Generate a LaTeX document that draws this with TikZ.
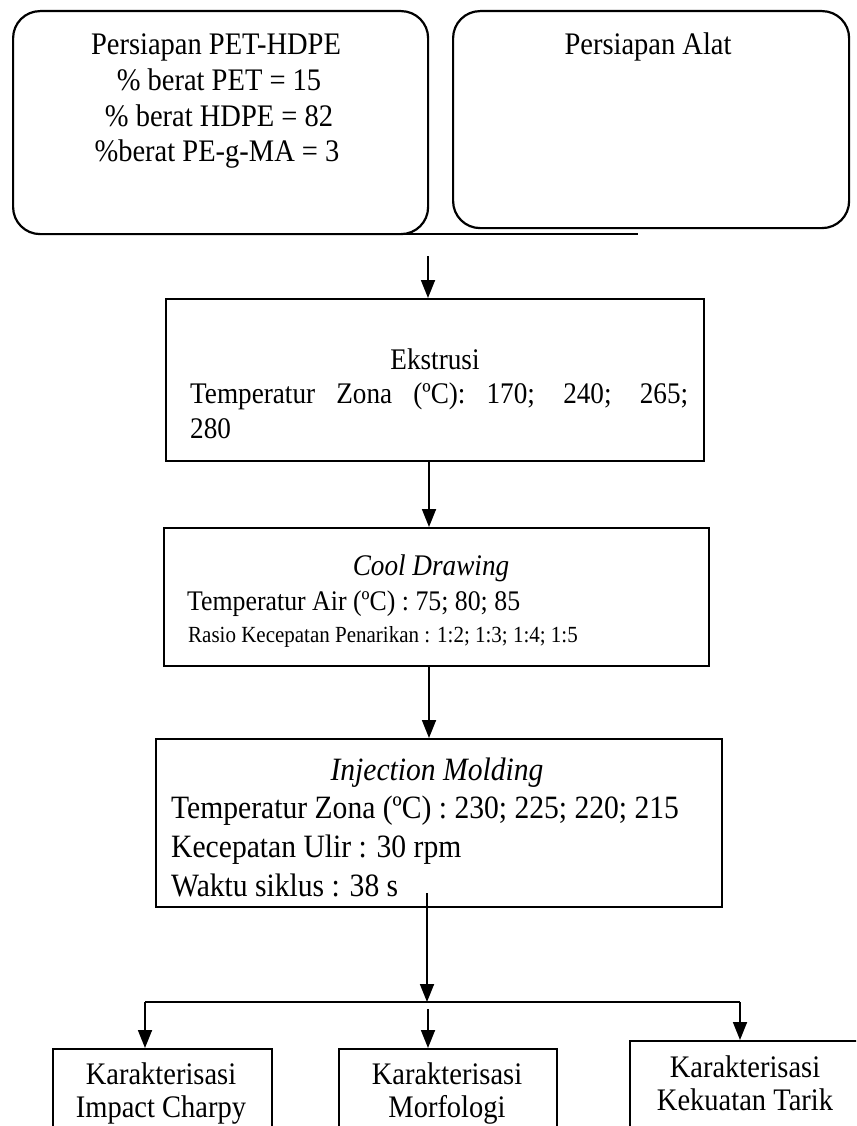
\documentclass[tikz,border=0pt]{standalone}
\usepackage{fontspec}
\setmainfont{Liberation Serif}
\usetikzlibrary{arrows.meta}
\newcommand{\vs}[1]{\scalebox{1}[1.1]{#1}}
\begin{document}
\begin{tikzpicture}[x=1pt,y=-1pt,
  box/.style={draw, line width=2.2pt, inner sep=0pt, anchor=north west},
  rbox/.style={box, rounded corners=27pt},
  arr/.style={line width=1.8pt, -{Triangle[length=18pt,width=14pt]}},
  big/.style={font=\fontsize{28.5}{34}\selectfont},
  mid/.style={font=\fontsize{27.2}{33}\selectfont},
  cl/.style={font=\fontsize{25.8}{31}\selectfont},
  inj/.style={font=\fontsize{29.6}{35}\selectfont},
  small/.style={font=\fontsize{21}{25}\selectfont},
  ctxt/.style={anchor=base, inner sep=0pt},
  ltxt/.style={anchor=base west, inner sep=0pt}
]
\clip (0,0) rectangle (856,1126);
\fill[white] (0,0) rectangle (856,1126);

% top boxes
\node[rbox, minimum width=415pt, minimum height=223pt] (pet) at (12,10) {};
\node[rbox, minimum width=396pt, minimum height=217pt] (alat) at (452,10) {};
\node[ctxt, big] (pet1) at (216,55) {\vs{Persiapan PET-HDPE}};
\node[ctxt, big] (pet2) at (219,91) {\vs{\% berat PET = 15}};
\node[ctxt, big] (pet3) at (219,127) {\vs{\% berat HDPE = 82}};
\node[ctxt, big] (pet4) at (217,162) {\vs{\%berat PE-g-MA = 3}};
\node[ctxt, big] (alat1) at (648,55) {\vs{Persiapan Alat}};
\coordinate (l1) at (405,234);
\coordinate (l2) at (638,234);
\draw[line width=1.1pt] (l1) -- (l2);

% Ekstrusi
\node[box, minimum width=538pt, minimum height=162pt] (ek) at (165,298) {};
\node[ctxt, mid] (ek1) at (435,369) {\vs{Ekstrusi}};
\node[ltxt, mid] (ek2) at (190,403) {\vs{\makebox[498pt][s]{Temperatur Zona (ºC): 170; 240; 265;}}};
\node[ltxt, mid] (ek3) at (190,438) {\vs{280}};

% Cool drawing
\node[box, minimum width=545pt, minimum height=138pt] (cool) at (163,527) {};
\node[ctxt, mid] (cool1) at (431,575) {\vs{\itshape Cool Drawing}};
\node[ltxt, cl] (cool2) at (187,610) {\vs{Temperatur Air (ºC) : 75; 80; 85}};
\node[ltxt, small] (cool3) at (188,642) {\vs{Rasio Kecepatan Penarikan : 1:2; 1:3; 1:4; 1:5}};

% Injection molding
\node[box, minimum width=566pt, minimum height=168pt] (inj) at (155,738) {};
\node[ctxt, inj] (inj1) at (437,780) {\vs{\itshape Injection Molding}};
\node[ltxt, inj] (inj2) at (171,818) {\vs{Temperatur Zona (ºC) : 230; 225; 220; 215}};
\node[ltxt, inj] (inj3) at (171,857) {\vs{Kecepatan Ulir : 30 rpm}};
\node[ltxt, inj] (inj4) at (171,896) {\vs{Waktu siklus : 38 s}};

% bottom boxes
\node[box, minimum width=219pt, minimum height=120pt] (kl) at (52,1048) {};
\node[box, minimum width=218pt, minimum height=120pt] (km) at (338,1048) {};
\node[box, minimum width=250pt, minimum height=120pt] (kr) at (629,1040) {};
\node[ctxt, big] (kl1) at (161,1084) {\vs{Karakterisasi}};
\node[ctxt, big] (kl2) at (161,1117) {\vs{Impact Charpy}};
\node[ctxt, big] (km1) at (447,1084) {\vs{Karakterisasi}};
\node[ctxt, big] (km2) at (447,1117) {\vs{Morfologi}};
\node[ctxt, big] (kr1) at (745,1077) {\vs{Karakterisasi}};
\node[ctxt, big] (kr2) at (745,1110) {\vs{Kekuatan Tarik}};

% connectors
\coordinate (ax) at (429,0);
\coordinate (a1s) at (428,256);
\draw[arr] (a1s) -- (a1s |- ek.north);
\draw[arr] (ek.south -| ax) -- (cool.north -| ax);
\draw[arr] (cool.south -| ax) -- (inj.north -| ax);
\coordinate (a4s) at (427,893);
\coordinate (split) at (427,1002);
\draw[arr] (a4s) -- (split);
\coordinate (bl) at (145,1002);
\coordinate (br) at (740,1002);
\draw[line width=1.8pt] (bl) -- (br);
\draw[arr] (bl) -- (bl |- kl.north);
\coordinate (ms) at (428,1009);
\draw[arr] (ms) -- (ms |- km.north);
\draw[arr] (br) -- (br |- kr.north);
\end{tikzpicture}
\end{document}
